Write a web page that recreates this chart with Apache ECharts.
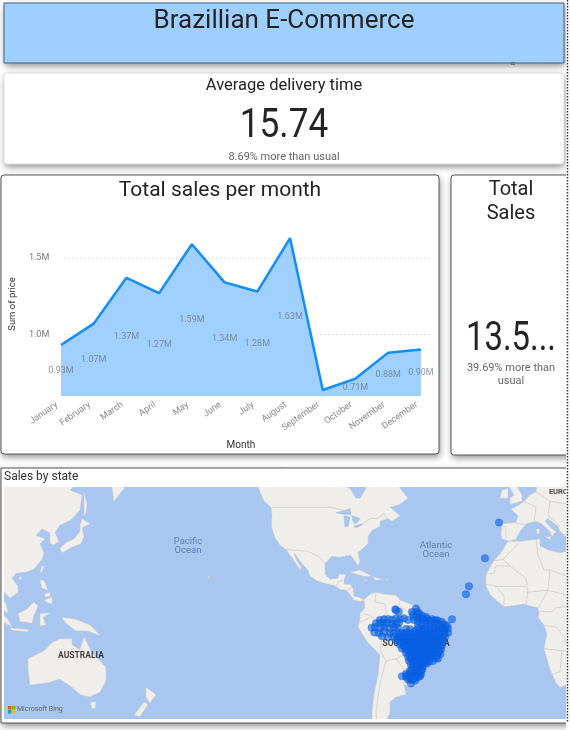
<!DOCTYPE html>
<html><head><meta charset="utf-8">
<style>html,body{margin:0;padding:0;background:#fff}#c{width:571px;height:730px}</style>
<script src="https://cdn.jsdelivr.net/npm/echarts@6/dist/echarts.min.js"></script>
</head><body><div id="c"></div>
<script>
const months=['January','February','March','April','May','June','July','August','September','October','November','December'];
const sales=[0.93,1.07,1.37,1.27,1.59,1.34,1.28,1.63,0.635,0.71,0.88,0.90];
const salesLabels=['0.93M','1.07M','1.37M','1.27M','1.59M','1.34M','1.28M','1.63M','','0.71M','0.88M','0.90M'];
const yTicks=[1.0,1.5];
const pageTitle='Brazillian E-Commerce';
const deliveryTitle='Average delivery time', deliveryValue='15.74', deliveryNote='8.69% more than usual';
const salesTitle='Total\nSales', salesValue='13.5...', salesNote='39.69% more than\nusual';

// Customer locations [lon, lat]
const customerPoints=[
[-10.5,43.5],[-17.5,28.5],[-25.5,15],[-27,11],[-34,-2],[-62.3,3.2],[-60.6,2],[-62,2.7],
[-52,3.6],[-54,1.8],[-51.5,2],[-50.5,1.2],[-53.5,0.4],[-51,0.2],[-49,-0.2],[-47,-0.8],
[-53,-0.9],[-50.5,-1.2],[-48.5,-1.4],[-46.5,-1.6],[-44,-2],[-42,-2.4],
[-70,-2.3],[-68,-2],[-66,-1.8],[-64,-2.2],[-62,-1.6],[-60,-1.9],[-58,-1.5],[-56,-2.3],[-53,-2.4],[-51,-2.6],[-49,-2.4],[-47,-2.8],[-45,-2.7],[-43,-3],[-41,-2.8],[-39,-3.4],
[-72,-4.1],[-70,-3.8],[-68,-4.4],[-66.5,-4],[-64,-4.3],[-62,-4.5],[-60.5,-3.8],[-51,-4.3],[-49,-4.6],[-47,-4.2],[-45,-4.7],[-43,-4.4],[-41,-4.8],[-39,-4.5],[-37.5,-5],[-36.5,-5.4],
[-74.2,-6.4],[-72.5,-6],[-70,-6.6],[-68,-6.2],[-65,-6.8],[-63,-6.1],[-61,-6.5],[-57,-7],[-55,-7.2],[-51,-6.4],[-49,-6.8],[-47,-6.3],[-45,-6.7],[-43,-6.5],[-41,-6.9],[-39,-6.4],[-37.5,-6.8],[-36,-6.6],
[-72.8,-8.8],[-70.5,-9.2],[-68,-8.5],[-65,-9],[-63,-9.2],[-61,-8.7],[-59,-9.1],[-57,-8.9],[-55,-9.3],[-53,-8.6],[-51,-9.1],[-49,-8.8],[-47,-9.2],[-45,-8.7],[-43,-9],[-41,-8.6],[-39,-9.1],[-37.5,-8.8],[-36,-9],
[-69,-10.8],[-66,-11.2],[-63,-10.9],[-61,-11.3],[-59,-11],[-57,-10.7],[-55,-11.2],[-53,-10.9],[-51,-11.3],[-49,-10.8],[-47,-11.1],[-45,-11],[-43,-11.3],[-41,-10.8],[-39,-11.2],[-37.5,-11],
[-62,-12.8],[-60,-13.3],[-58,-12.9],[-56,-13.2],[-54,-12.7],[-52,-13.1],[-50,-12.9],[-48,-13.3],[-46,-12.8],[-44,-13.1],[-42,-12.7],[-40,-13.2],[-38.5,-13],
[-60,-15],[-58,-15.3],[-56,-14.7],[-54,-15.1],[-52,-14.8],[-50,-15.2],[-48,-14.9],[-46,-15.3],[-44,-14.7],[-42,-15.1],[-40,-14.9],[-39,-15.4],
[-59,-17],[-57,-17.3],[-55,-16.8],[-53,-17.2],[-51,-16.9],[-49,-17.3],[-47,-16.8],[-45,-17.1],[-43,-16.9],[-41,-17.2],[-39.5,-17.4],
[-57,-19.1],[-55,-19.4],[-53,-19],[-51,-19.5],[-49,-19.1],[-47,-19.4],[-45,-19],[-43,-19.5],[-41,-19.2],[-39.8,-19.7],
[-56,-21],[-54,-21.4],[-52,-21.1],[-50,-21.5],[-48,-21],[-46,-21.4],[-44,-21.1],[-42,-21.5],[-41,-21.9],
[-55.5,-22.9],[-53.5,-23.2],[-51.5,-22.8],[-49.5,-23.3],[-47.5,-23],[-45.5,-23.3],[-43.5,-23.1],
[-54.6,-24.7],[-52.5,-25.1],[-50.5,-24.6],[-48.5,-25],[-46.5,-24.3],
[-54,-26.4],[-52,-26.8],[-50,-26.4],[-48.8,-27],
[-57,-29.1],[-55,-28.5],[-53,-28.9],[-51,-28.6],[-49.5,-29.2],
[-59,-30.2],[-57,-30.4],[-55,-30.7],[-53,-30.4],[-51,-30.6],[-50,-30.1],
[-56,-31.6],[-54,-31.8],[-52.4,-32],
[-54.6,-33.3],
[-52,-7.8],[-50,-7.6],[-48,-7.9],[-46,-7.6],[-44,-7.9],[-42,-7.6],[-40,-7.9],[-38,-7.7],
[-60,-10],[-58,-9.9],[-56,-10.1],[-54,-9.9],[-52,-10.1],[-50,-9.9],[-48,-10.2],[-46,-9.9],[-44,-10.1],[-42,-9.8],[-40,-10],[-38,-9.9],
[-61,-12],[-59,-12.1],[-57,-11.9],[-55,-12.2],[-53,-11.9],[-51,-12.2],[-49,-12],[-47,-12.1],[-45,-11.9],[-43,-12.2],[-41,-12],[-39,-12.1],
[-59,-14],[-57,-14],[-55,-13.9],[-53,-14.1],[-51,-13.9],[-49,-14.2],[-47,-14],[-45,-14.1],[-43,-13.9],[-41,-14.1],
[-58,-16.1],[-56,-16],[-54,-16.2],[-52,-15.9],[-50,-16.2],[-48,-16],[-46,-16.1],[-44,-15.9],[-42,-16.1],[-40,-16.2],
[-56,-18.2],[-54,-18],[-52,-18.3],[-50,-18],[-48,-18.2],[-46,-18],[-44,-18.2],[-42,-18],[-40.5,-18.2],
[-55,-20.2],[-53,-20.1],[-51,-20.3],[-49,-20],[-47,-20.2],[-45,-20.1],[-43,-20.3],[-41.5,-20.4],
[-54.5,-22],[-52.5,-22],[-50.5,-22.2],[-48.5,-22],[-46.5,-22.2],[-44.5,-22],
[-53.5,-24],[-51.5,-23.9],[-49.5,-24.1],[-47.5,-24],
[-53,-25.7],[-51,-25.6],[-49,-25.8],
[-56,-29.6],[-54,-29.4],[-52,-29.7],[-50.5,-29.5],[-55,-31.4],[-53,-31.2],
[-53,-27.5],[-51,-27.6],[-49.5,-27.8],[-55,-27.7]
];

// Simplified land outlines [lon, lat]; longitudes east of 60 wrap to the far left
const land=[
[[-134,60],[-133,58],[-130,54],[-128,51],[-124.5,49],[-124,46],[-124.3,42],[-122.5,37.5],[-120,34.3],[-117,32.5],[-115,30],[-112,26],[-110,23],[-109.5,24.5],[-112,28],[-113,31],[-109,26],[-106,23],[-105,20],[-101,17.5],[-96,16],[-93,15.5],[-90,13.5],[-87,13],[-85,11],[-83,8],[-80,7.3],[-78,8],[-80,9.3],[-83,10],[-83.5,14],[-85,16],[-88,16],[-88,18],[-87,21],[-90.5,21],[-91,19],[-95,18.5],[-97.5,21],[-97.5,26],[-94,29.5],[-90,29],[-85,30],[-83,28],[-81,25],[-80,27],[-81,31],[-76,35],[-76,38],[-74,40.5],[-70,42],[-70,44],[-66,45],[-64,44],[-60,46],[-65,49],[-60,50],[-56,52],[-60,55],[-62,60],[-78,60],[-77,55],[-80,52],[-82,52],[-85,55],[-92,57],[-95,62],[-134,62]],
[[-78,8],[-75,11],[-72,12],[-68,11],[-62,10.5],[-60,8],[-55,6],[-51,4],[-50,0],[-44,-2.5],[-38,-3.5],[-35,-6],[-35,-9],[-39,-13],[-39,-18],[-41,-22],[-45,-23.5],[-48.5,-26],[-49,-29],[-53,-33.5],[-55,-35],[-58,-34],[-57,-38],[-62,-39],[-65,-41],[-65,-45],[-68,-50],[-68,-53],[-70,-53],[-74,-50],[-74,-45],[-73,-38],[-71,-30],[-70,-20],[-76,-14],[-81,-6],[-80,-2],[-80,1],[-77.5,4]],
[[-6,36],[-9.5,31],[-13,27.5],[-17,21],[-17,15],[-15,11],[-13,9],[-8,4.5],[-4,5],[2,6],[5,5],[9,4],[9.5,1],[9,-1],[12,-5],[13.5,-10],[12,-17],[15,-27],[18,-33],[20,-35],[30,-32],[40,-15],[40,-5],[51,11],[43,11],[37,20],[33,30],[25,32],[20,31],[15,32],[10,34],[10,37],[0,36]],
[[-9,37],[-9.5,39],[-9,43],[-2,43.5],[-1,46],[-4.5,48.5],[-1,49.5],[2,51],[5,53],[8,54],[9,57],[11,60],[30,62],[32,45],[28,41],[23,38],[20,40],[19,42],[14,45],[12.5,44],[16,41],[18,40],[16,38],[15,40],[11,43],[8,44],[3,43],[0,40],[-2,37],[-5,36]],
[[-5,50],[1,51],[1,53],[-2,56],[-4,60],[-6,56],[-3,53],[-5,52]],
[[-10,52],[-6,52],[-6,55],[-9,54.5]],
[[12.5,38],[15.5,38],[15,36.8]],[[8.3,41],[9.7,41],[9.5,39],[8.5,39]],
[[90,62],[90,22],[94,16],[97,16.5],[98,10],[100,6],[103,1.5],[104,2],[103,6],[100,10],[100,13.5],[103,11],[105,9],[109,12],[109,15],[106,19],[108,21.5],[113,22],[117,23.5],[121,28],[122,31],[120,35],[122.5,37],[118,38.5],[121,41],[125,39.5],[125,35],[127,34.5],[129.5,36],[127.5,39.5],[130,42.5],[135.5,44.5],[140,48],[141,53],[135,54.5],[143,59],[156,62]],
[[155,62],[155.5,57],[157,51],[162,55],[163,60]],
[[142,54],[143.5,50],[143,47],[142,46],[142,50]],
[[141,45],[145,43],[141,41.5],[142,38],[140.5,35],[136,33.5],[131,31],[130,33],[133,35.5],[137,37],[140,40],[140,42.5]],
[[120,22],[121,25],[122,25],[121,22]],[[108.8,19],[110.8,20],[110.5,18.3]],
[[120,18],[122,18],[124,13],[121,14]],[[122,8],[126,9.5],[126,6],[124,6.5]],[[122,11],[125,12],[125,10],[123,9.5]],
[[109,1],[113,3],[117,7],[119,5],[117,0],[116,-4],[110,-3]],
[[120,1],[125,1.3],[121.5,-1],[123,-5],[120,-5.5]],
[[95,5.5],[98,4],[104,-2],[106,-6],[101,-3]],[[105,-6.5],[114,-7.3],[114,-8.4],[106,-7.7]],
[[131,-1],[138,-2],[145,-5],[148,-8],[150,-10.5],[144,-8],[138,-8],[133,-4]],
[[114,-22],[122,-18],[126,-14],[130,-12],[136,-12],[136,-15],[140,-17.5],[142,-11],[146,-19],[153,-26],[153,-32],[150,-37],[145,-39],[140,-38],[136,-35],[130,-31.5],[124,-33],[115,-34],[114,-27]],
[[145,-41],[148,-41],[147.5,-43.5],[146,-43.5]],
[[173,-35],[178,-38],[175,-41.5],[173,-39]],[[172,-41],[174,-42],[170,-46.5],[167,-46]],
[[-156,20],[-155,19.5],[-155.7,19]],
[[-85,22],[-80,23],[-74,20],[-78,20]],[[-74,19.8],[-68.5,18.5],[-72,18]],[[-78.3,18.4],[-76.3,18.2],[-77,17.8]],
[[-67.2,18.5],[-65.7,18.4],[-66.2,18]]
];
const water=[
[[-92,47],[-85,48.5],[-84.5,46.5],[-88,46.5]],[[-88,46],[-85,45.5],[-86,42],[-87.5,42]],[[-84,46],[-80,45],[-82,43],[-83.5,44]],[[-83,42],[-79,43],[-79,42.5],[-82,41.5]]
];
const borders=[
[[-124,49],[-95,49],[-89,48],[-84,46],[-82.5,42],[-79,43],[-75,45],[-71,45],[-68,47],[-67,45]],
[[-117,32.5],[-106,31.7],[-101,29.5],[-97.3,26]],[[-92,14.7],[-91,17],[-88.5,18]],[[-83,15],[-87,13]],
[[-72,12],[-72.5,7],[-67.5,6],[-67,1.5],[-70,-4],[-74,-7.5],[-69,-11],[-65,-10],[-60,-14],[-58,-20],[-54.6,-25.5],[-57.5,-30],[-53.5,-33.5]],
[[-60,8],[-60.5,5],[-56,2],[-51.5,4]],[[-78,1],[-75,0],[-70,-4]],[[-80,-3.5],[-75,-1]],[[-70,-18],[-69,-11]],[[-70,-18],[-67,-23],[-70,-33],[-72,-45],[-71,-52]],[[-67,-23],[-62,-22],[-58,-20]],[[-62,-22],[-58,-27],[-54.6,-25.5]],[[-58,-27],[-58,-34]],
[[-9,42],[-7,42],[-7,37]],[[-2,43.3],[3,42.5]],[[2,51],[8,49],[7.5,46],[7,44]],[[8,54],[15,51],[14,46]],[[14,46],[20,42]],[[15,51],[24,50],[28,45]],
[[-1,35],[-8.5,28],[-13,27.5]],[[-8.5,28],[-5,25],[3,19],[4,12],[3,6]],[[-17,16],[-12,15],[-5,15],[3,15]],[[-12,15],[-8,10],[-8,4.5]],[[-5,25],[-12,25],[-13,21.5],[-17,21]],[[8,37],[9,30],[12,23],[15,23],[24,20]],[[25,32],[25,20]],[[15,23],[14,13],[9,4]],[[14,13],[22,11],[24,9]],[[12,-5],[18,-6],[22,-11],[24,-18],[21,-18],[20,-28],[17,-29]],[[12,-17],[21,-18]],[[9.5,2],[16,2],[18,4],[27,5]],[[3,12],[14,13]]
];
const mapLabels=[
{lon:-166,lat:36,text:'Pacific',color:'#4f6ea8',weight:'normal',size:9.5},
{lon:-166,lat:32,text:'Ocean',color:'#4f6ea8',weight:'normal',size:9.5},
{lon:-42,lat:34.2,text:'Atlantic',color:'#4f6ea8',weight:'normal',size:9.5},
{lon:-42,lat:30,text:'Ocean',color:'#4f6ea8',weight:'normal',size:9.5},
{lon:-219.5,lat:-20.8,text:'AUSTRALIA',color:'#111',weight:'bold',size:8.5},
{lon:-52,lat:-14.6,text:'SOUTH AMERICA',color:'#111',weight:'bold',size:8.5},
{lon:25,lat:8.6,text:'AFRICA',color:'#222',weight:'bold',size:8.5},
{lon:21.5,lat:54,text:'EUROPE',color:'#222',weight:'bold',size:7.5}
];

const FONT='Roboto';
const BASE=0.596, TOP=1.801;
const wrap=l=>l>60?l-360:l;
const merc=lat=>Math.log(Math.tan(Math.PI/4+lat*Math.PI/360))*180/Math.PI;
const proj=p=>[wrap(p[0]),merc(p[1])];
const panelShadow={shadowBlur:7,shadowColor:'rgba(0,0,0,.45)',shadowOffsetX:1,shadowOffsetY:3};
function txt(x,y,text,size,color,align,sx){return {type:'text',z:5,x,y,scaleX:sx||1,style:{text,fontFamily:FONT,fontSize:size,fill:color,align:align||'center',verticalAlign:'middle',lineHeight:size*1.2}};}
function rect(x,y,w,h,style,r,z){return {type:'rect',z:z===undefined?-3:z,shape:{x,y,width:w,height:h,r:r||0},style};}
// A panel: filled body casting the shadow, with the outline drawn separately so no shadow falls inside it.
function panel(x,y,w,h,fill,stroke,r){return [
 rect(x,y,w,h,Object.assign({fill},panelShadow),r,-4),
 rect(x,y,w,h,{fill:'none',stroke,lineWidth:1},r,-3)];}

const graphic=[
 ...panel(4,3,560,60,'#9fcfff','#48627c',0),
 txt(284,21,pageTitle,26,'#252423'),
 rect(511,62,4,3,{fill:'#777'},0,2),
 ...panel(4,73,560,91,'#fff','#ddd',3),
 txt(284,86,deliveryTitle,16.5,'#252423'),
 txt(284,127,deliveryValue,40,'#252423','center',0.88),
 txt(284,157,deliveryNote,11,'#666'),
 rect(6,160,556,3,{fill:'#fff'},0,6),
 ...panel(1,175,438,279,'#fff','#555',3),
 txt(220,191,'Total sales per month',21,'#252423'),
 ...panel(451,175,130,280,'#fff','#555',3),
 txt(511,202,salesTitle,20,'#252423'),
 txt(511,340,salesValue,40,'#252423','center',0.82),
 txt(511,375,salesNote,11,'#666'),
 ...panel(1,468,580,255,'#fff','#555',0),
 rect(4,487,562,232,{fill:'#a9c6f0'},0,-2),
 txt(4,477,'Sales by state',12,'#333','left'),
 rect(8,706,3.5,3.5,{fill:'#f25022'},0,8),rect(12,706,3.5,3.5,{fill:'#7fba00'},0,8),
 rect(8,710,3.5,3.5,{fill:'#00a4ef'},0,8),rect(12,710,3.5,3.5,{fill:'#ffb900'},0,8),
 Object.assign(txt(17,709.5,'Microsoft Bing',7,'#666','left'),{z:8}),
 rect(566,0,5,730,{fill:'#fff'},0,20),
 {type:'line',z:21,shape:{x1:567.5,y1:0,x2:567.5,y2:722},style:{stroke:'#333',lineWidth:1.5,lineDash:[1.5,1.5]}}
];

function shapes(list,kind,style){
 return {type:'custom',xAxisIndex:2,yAxisIndex:2,coordinateSystem:'cartesian2d',clip:true,silent:true,
  z:kind==='water'?3:(kind==='line'?4:2),
  data:list.map((p,i)=>[i]),
  renderItem(params,api){
   const pts=list[params.dataIndex].map(p=>api.coord(proj(p)));
   return {type:kind==='line'?'polyline':'polygon',shape:{points:pts},style};
  }};
}

const option={
 animation:false,textStyle:{fontFamily:FONT},graphic,
 grid:[
  {left:48,top:212,width:384,height:184},
  {left:44.6,top:212,width:392.7,height:184},
  {left:4,top:487,width:562,height:232}
 ],
 xAxis:[
  {gridIndex:0,type:'value',min:0,max:1,show:false},
  {gridIndex:1,type:'category',data:months,boundaryGap:true,
   axisLine:{show:false},axisTick:{show:false},
   axisLabel:{rotate:35,interval:0,fontSize:9,color:'#8a8a8a',margin:5,padding:[0,5,0,0],fontFamily:FONT},
   name:'Month',nameLocation:'middle',nameGap:44,nameTextStyle:{fontSize:10,color:'#333',fontFamily:FONT}},
  {gridIndex:2,type:'value',min:-258,max:23,show:false}
 ],
 yAxis:[
  {gridIndex:0,type:'value',min:BASE,max:TOP,
   axisLine:{show:false},axisTick:{show:false,customValues:yTicks},
   axisLabel:{customValues:yTicks,fontSize:9,color:'#777',margin:7,padding:[2,8,0,0],fontFamily:FONT,formatter:v=>v.toFixed(1)+'M'},
   splitLine:{show:true,lineStyle:{type:[1,3],color:'#c8c8c8',width:1}},
   name:'Sum of price',nameLocation:'middle',nameGap:36,nameTextStyle:{fontSize:9.5,color:'#333',fontFamily:FONT}},
  {gridIndex:1,type:'value',min:BASE,max:TOP,show:false},
  {gridIndex:2,type:'value',min:-53.9,max:66.9,show:false}
 ],
 series:[
  {type:'line',xAxisIndex:1,yAxisIndex:1,data:sales,symbol:'none',z:3,
   lineStyle:{color:'#118dff',width:2.5},areaStyle:{color:'#a0d0ff',opacity:1,origin:'start'}},
  {type:'scatter',xAxisIndex:1,yAxisIndex:1,symbolSize:0,z:5,silent:true,
   data:sales.map((v,i)=>[months[i],(v+BASE)/2,salesLabels[i]]).filter(d=>d[2]),
   label:{show:true,position:'inside',formatter:p=>p.value[2],fontSize:9,color:'#6f7a85',fontFamily:FONT}},
  shapes(land,'poly',{fill:'#efeeea',stroke:'#cfcdc6',lineWidth:0.5}),
  shapes(water,'water',{fill:'#a9c6f0',stroke:'#8fb0dc',lineWidth:0.4}),
  shapes(borders,'line',{fill:'none',stroke:'#c4c2bb',lineWidth:0.6}),
  {type:'scatter',xAxisIndex:2,yAxisIndex:2,symbolSize:0,z:5,silent:true,
   data:mapLabels.map(l=>({value:[l.lon,merc(l.lat)],label:{show:true,position:'inside',formatter:l.text,color:l.color,fontWeight:l.weight,fontSize:l.size,fontFamily:FONT}}))},
  {type:'scatter',xAxisIndex:2,yAxisIndex:2,symbolSize:7.5,z:6,silent:true,
   data:customerPoints.map(proj),
   itemStyle:{color:'rgba(10,98,228,.78)',borderColor:'rgba(10,90,220,.7)',borderWidth:0.5}}
 ]
};
const chart=echarts.init(document.getElementById('c'),null,{renderer:'canvas',width:571,height:730});
chart.setOption(option);
</script></body></html>
